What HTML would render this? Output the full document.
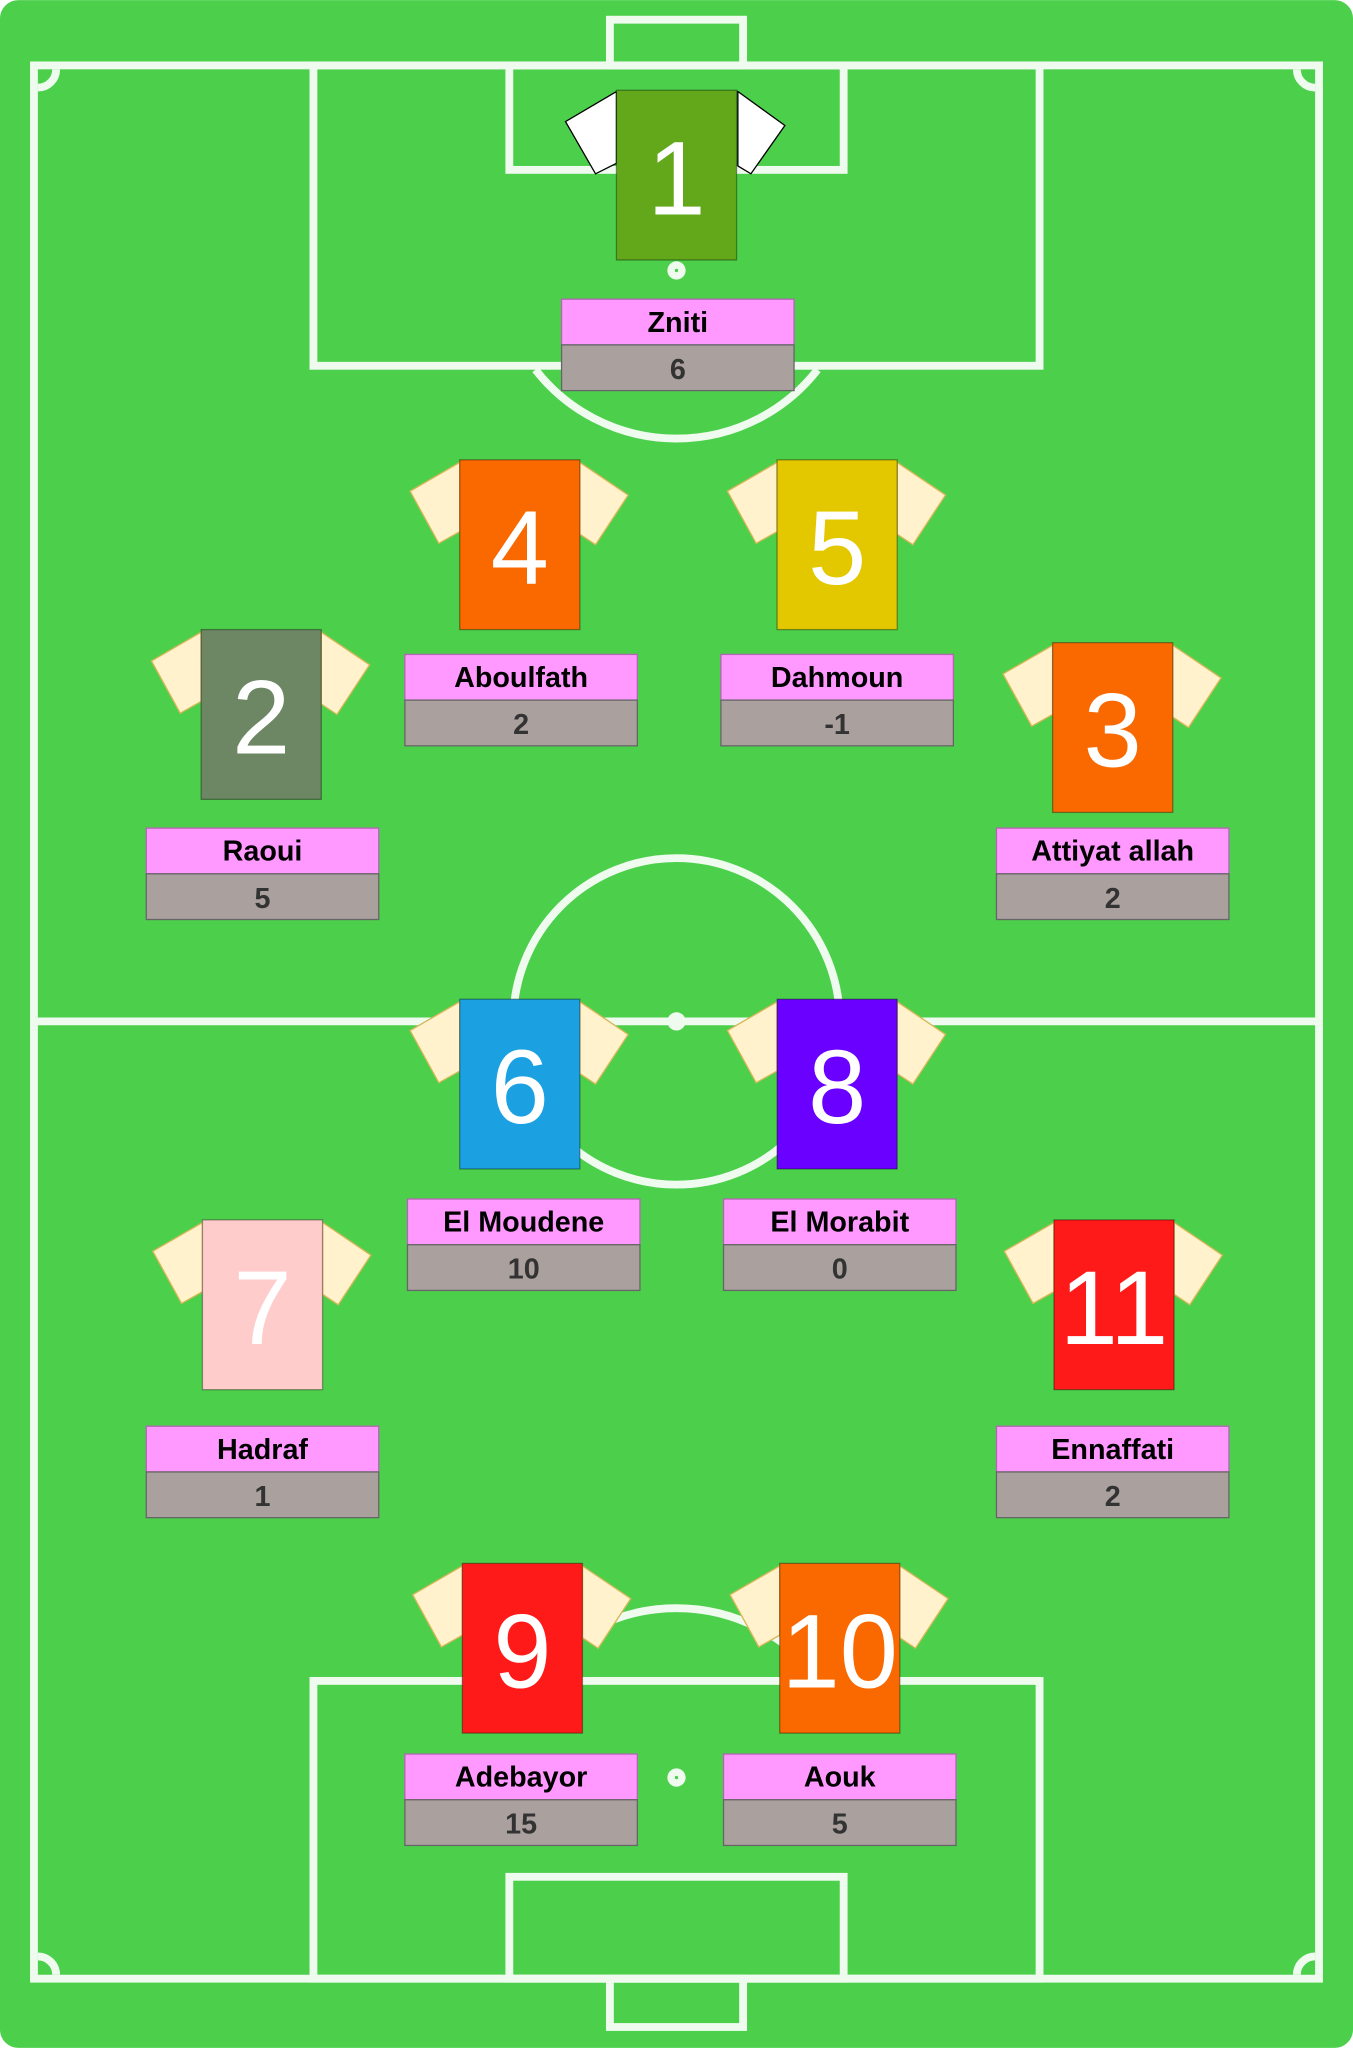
<!DOCTYPE html>
<html><head><meta charset="utf-8"><style>
html,body{margin:0;padding:0;background:#fff;}
svg{display:block;font-family:"Liberation Sans",Arial,sans-serif;}
</style></head><body>
<svg id="pitch" width="1353" height="2048" viewBox="0 0 1036 1568" xmlns="http://www.w3.org/2000/svg">
<rect x="0" y="0" width="1036" height="1568" rx="14" fill="#4CD04C"/>
<g fill="none" stroke="#EEFBEE" stroke-width="6">
<rect x="26" y="50" width="984" height="1465"/>
<line x1="26" y1="782" x2="1010" y2="782"/>
<circle cx="518" cy="782" r="125"/>
<rect x="467" y="15" width="102" height="35"/>
<rect x="240" y="50" width="556" height="230"/>
<rect x="390" y="50" width="256" height="80"/>
<path d="M410 283 A137 137 0 0 0 626 283"/>
<rect x="467" y="1515" width="102" height="37"/>
<rect x="240" y="1287" width="556" height="228"/>
<rect x="390" y="1437" width="256" height="78"/>
<path d="M410 1284 A137 137 0 0 1 626 1284"/>
<path d="M29 67 A14 14 0 0 0 43 53 M993 53 A14 14 0 0 0 1007 67 M29 1498 A14 14 0 0 1 43 1512 M993 1512 A14 14 0 0 1 1007 1498"/>
</g>
<g fill="#EEFBEE">
<circle cx="518" cy="782" r="7"/>
<circle cx="518" cy="207" r="7"/>
<circle cx="518" cy="1361" r="7"/>
</g>
<g fill="#4CD04C">
<circle cx="518" cy="207" r="1.3"/>
<circle cx="518" cy="1361" r="1.3"/>
</g>
<g id="players"></g>
</svg>
<script>
const numbers=[1,4,5,2,3,6,8,7,11,9,10];
const names=["Zniti","Aboulfath","Dahmoun","Raoui","Attiyat allah","El Moudene","El Morabit","Hadraf","Ennaffati","Adebayor","Aouk"];
const scores=[6,2,-1,5,2,10,0,1,2,15,5];
const colors=["#62A81A","#FA6800","#E3C800","#6D8764","#FA6800","#1BA1E2","#6A00FF","#FFCCCC","#FF1A1A","#FF1A1A","#FA6800"];
const shirtX=[472,352,595,154,806,352,595,155,807,354,597];
const shirtY=[69,352,352,482,492,765,765,934,934,1197,1197];
const labelX=[430,310,552,112,763,312,554,112,763,310,554];
const labelY=[229,501,501,634,634,918,918,1092,1092,1343,1343];
const NS="http://www.w3.org/2000/svg";
const g=document.getElementById('players');
function mk(t,a){const e=document.createElementNS(NS,t);for(const k in a)e.setAttribute(k,a[k]);return e;}
numbers.forEach((n,i)=>{
  const x=shirtX[i],y=shirtY[i],W=92,H=130;
  const p=mk('g',{});
  
  
  const gk=i===0;
  const sf=gk?'#FFFFFF':'#FFF2CC', ss=gk?'#000':'#D6B656';
  const ls=gk?`${x},${y+1} ${x-39},${y+24} ${x-16},${y+64} ${x},${y+56}`:`${x},${y+2} ${x-38},${y+24} ${x-16},${y+64} ${x},${y+55}`;
  const rs=gk?`${x+W+1},${y+1} ${x+W+37},${y+27} ${x+W+11},${y+64} ${x+W+1},${y+58}`:`${x+W},${y+2} ${x+W+37},${y+27} ${x+W+12},${y+65} ${x+W},${y+57}`;
  const l=mk('polygon',{points:ls,fill:sf,stroke:ss,'stroke-width':1});
  
  
  const r=mk('polygon',{points:rs,fill:sf,stroke:ss,'stroke-width':1});
  
  
  const b=mk('rect',{x:x,y:y,width:W,height:H,fill:colors[i],stroke:'rgba(0,0,0,0.35)','stroke-width':1});
  
  
  const t=mk('text',{x:x+W/2,y:y+95,'text-anchor':'middle','font-size':80,fill:'#fff'});
  t.textContent=n;
  
  
  const lx=labelX[i],ly=labelY[i];
  const nb=mk('rect',{x:lx,y:ly,width:178,height:35,fill:'#FF99FF',stroke:'#B266B2','stroke-width':1});
  
  
  const nt=mk('text',{x:lx+89,y:ly+25,'text-anchor':'middle','font-size':22,'font-weight':'bold',fill:'#000'});
  nt.textContent=names[i];
  
  
  const sb=mk('rect',{x:lx,y:ly+35,width:178,height:35,fill:'#AAA19F',stroke:'#666','stroke-width':1});
  
  
  const st=mk('text',{x:lx+89,y:ly+61,'text-anchor':'middle','font-size':22,'font-weight':'bold',fill:'#333'});
  st.textContent=scores[i];
  
  
  [l,r,b,t,nb,nt,sb,st].forEach(e=>p.appendChild(e));
  g.appendChild(p);
});
</script>
</body></html>
